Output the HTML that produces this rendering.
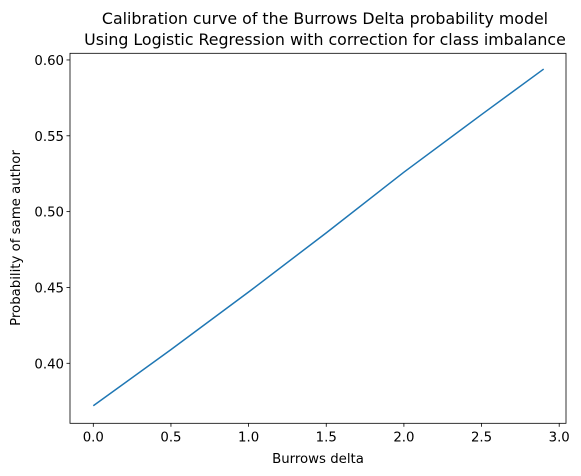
<!DOCTYPE html>
<html><head><meta charset="utf-8"><style>
body{margin:0;background:#fff}
svg{display:block;font-family:"DejaVu Sans","Liberation Sans",sans-serif}
</style></head><body>
<svg id="chart" width="581" height="476">
<rect width="581" height="476" fill="#fff"/>
<text x="325" y="24" text-anchor="middle" font-size="15.8">Calibration curve of the Burrows Delta probability model</text>
<text x="325" y="45" text-anchor="middle" font-size="15.8">Using Logistic Regression with correction for class imbalance</text>
<g id="axes"></g>
<text x="318" y="463" text-anchor="middle" font-size="13.3">Burrows delta</text>
<text transform="translate(20,238) rotate(-90)" text-anchor="middle" font-size="13.3">Probability of same author</text>
</svg>
<script>
const xValues=[0,0.5,1.0,1.5,2.0,2.5,2.9];
const yValues=[0.372,0.409,0.447,0.486,0.526,0.564,0.594];
const xTicks=[0,0.5,1.0,1.5,2.0,2.5,3.0];
const xTickLabels=["0.0","0.5","1.0","1.5","2.0","2.5","3.0"];
const yTicks=[0.40,0.45,0.50,0.55,0.60];
const yTickLabels=["0.40","0.45","0.50","0.55","0.60"];
const L=70,R=566,T=53.3,B=423.3;
const sx=v=>93.3+v*155.3;
const sy=v=>363.3-(v-0.40)*1516.7;
const ns="http://www.w3.org/2000/svg";
const g=document.getElementById('axes');
function mk(t,a){const e=document.createElementNS(ns,t);for(const k in a)e.setAttribute(k,a[k]);g.appendChild(e);return e;}
const line=mk('polyline',{points:xValues.map((x,i)=>sx(x)+','+sy(yValues[i])).join(' '),fill:'none',stroke:'#1f77b4','stroke-width':1.5});


const frame=mk('rect',{x:L,y:T,width:R-L,height:B-T,fill:'none',stroke:'#000','stroke-width':0.8});


xTicks.forEach((v,i)=>{
 const tk=mk('line',{x1:sx(v),x2:sx(v),y1:B,y2:B+3.5,stroke:'#000','stroke-width':0.8});
 
 
 const t=mk('text',{x:sx(v),y:B+18,'text-anchor':'middle','font-size':13.3});
 t.textContent=xTickLabels[i];
 
 
});
yTicks.forEach((v,i)=>{
 const tk=mk('line',{x1:L-3.5,x2:L,y1:sy(v),y2:sy(v),stroke:'#000','stroke-width':0.8});
 
 
 const t=mk('text',{x:L-6,y:sy(v)+5,'text-anchor':'end','font-size':13.3});
 t.textContent=yTickLabels[i];
 
 
});
</script>
</body></html>
